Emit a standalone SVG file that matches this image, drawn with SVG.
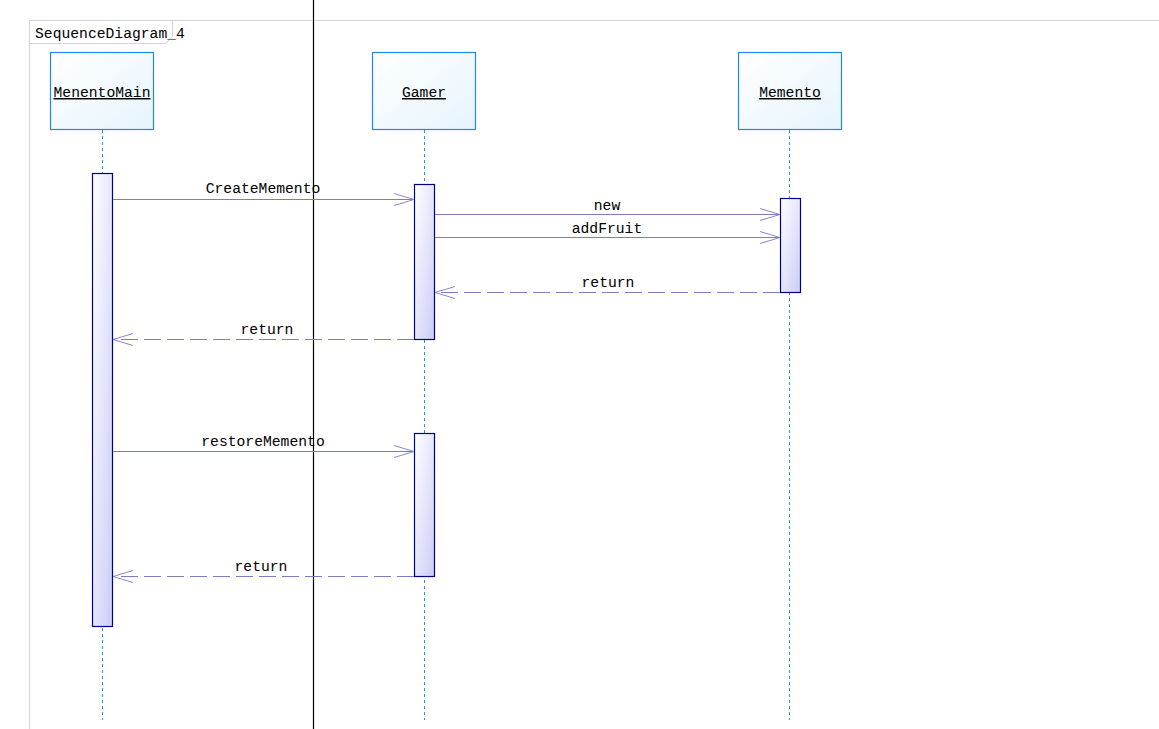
<svg xmlns="http://www.w3.org/2000/svg" width="1159" height="729" viewBox="0 0 1159 729">
<defs>
<linearGradient id="nodeFill" x1="0" y1="0" x2="1" y2="1">
<stop offset="0" stop-color="#ffffff"/>
<stop offset="1" stop-color="#e6f4fc"/>
</linearGradient>
<linearGradient id="actFill" x1="0" y1="0" x2="1" y2="1">
<stop offset="0" stop-color="#ffffff"/>
<stop offset="1" stop-color="#ccccf6"/>
</linearGradient>
<marker id="open" markerWidth="22" markerHeight="14" refX="21" refY="7" orient="auto" markerUnits="userSpaceOnUse">
<path d="M1,1 L21,7 L1,13" fill="none" stroke="#8888cc" stroke-width="1"/>
</marker>
</defs>
<style>
.frame{fill:none;stroke:#d0d0e6;stroke-width:1}
.node{fill:url(#nodeFill);stroke:#1e88f0;stroke-width:1.2}
.life{stroke:#2f90f0;stroke-width:1;stroke-dasharray:3,3}
.act{fill:url(#actFill);stroke:#000088;stroke-width:1.2}
.msg{stroke:#7c7cc4;stroke-width:1;fill:none;marker-end:url(#open)}
.ret{stroke:#7c7cc4;stroke-width:1;fill:none;stroke-dasharray:17,6;marker-end:url(#open)}
text{font-family:"Liberation Mono","DejaVu Sans Mono",monospace;font-size:14.7px;fill:#000}
.nt{text-decoration:underline;text-anchor:middle}
.ml{text-anchor:middle}
</style>
<rect width="1159" height="729" fill="#ffffff"/>
<g id="frame">
<path class="frame" d="M29.5,729 V20.5 H1159"/>
<path class="frame" d="M29.5,43.5 H165.5 L172.5,36.5 V20.5"/>
<text x="35" y="38">SequenceDiagram_4</text>
</g>
<line x1="313.5" y1="0" x2="313.5" y2="729" stroke="#000" stroke-width="1.2"/>
<g id="MenentoMain">
<line class="life" x1="102.5" y1="130" x2="102.5" y2="720"/>
<rect class="node" x="50.5" y="52.5" width="103" height="77"/>
<text class="nt" x="102" y="97">MenentoMain</text>
<rect class="act" x="92.5" y="173.5" width="20" height="453"/>
</g>
<g id="Gamer">
<line class="life" x1="424.5" y1="130" x2="424.5" y2="720"/>
<rect class="node" x="372.5" y="52.5" width="103" height="77"/>
<text class="nt" x="424" y="97">Gamer</text>
<rect class="act" x="414.5" y="184.5" width="20" height="155"/>
<rect class="act" x="414.5" y="433.5" width="20" height="143"/>
</g>
<g id="Memento">
<line class="life" x1="789.5" y1="130" x2="789.5" y2="720"/>
<rect class="node" x="738.5" y="52.5" width="103" height="77"/>
<text class="nt" x="790" y="97">Memento</text>
<rect class="act" x="780.5" y="198.5" width="20" height="94"/>
</g>
<g id="connectors">
<line class="msg" x1="113" y1="199.5" x2="414" y2="199.5"/>
<text class="ml" x="263" y="193">CreateMemento</text>
<line class="msg" x1="435" y1="214.5" x2="780" y2="214.5"/>
<text class="ml" x="607" y="210">new</text>
<line class="msg" x1="435" y1="237.5" x2="780" y2="237.5"/>
<text class="ml" x="607" y="233">addFruit</text>
<line class="ret" x1="780" y1="292.5" x2="435" y2="292.5"/>
<text class="ml" x="608" y="287">return</text>
<line class="ret" x1="414" y1="339.5" x2="113" y2="339.5"/>
<text class="ml" x="267" y="334">return</text>
<line class="msg" x1="113" y1="451.5" x2="414" y2="451.5"/>
<text class="ml" x="263" y="446">restoreMemento</text>
<line class="ret" x1="414" y1="576.5" x2="113" y2="576.5"/>
<text class="ml" x="261" y="571">return</text>
</g>
</svg>
